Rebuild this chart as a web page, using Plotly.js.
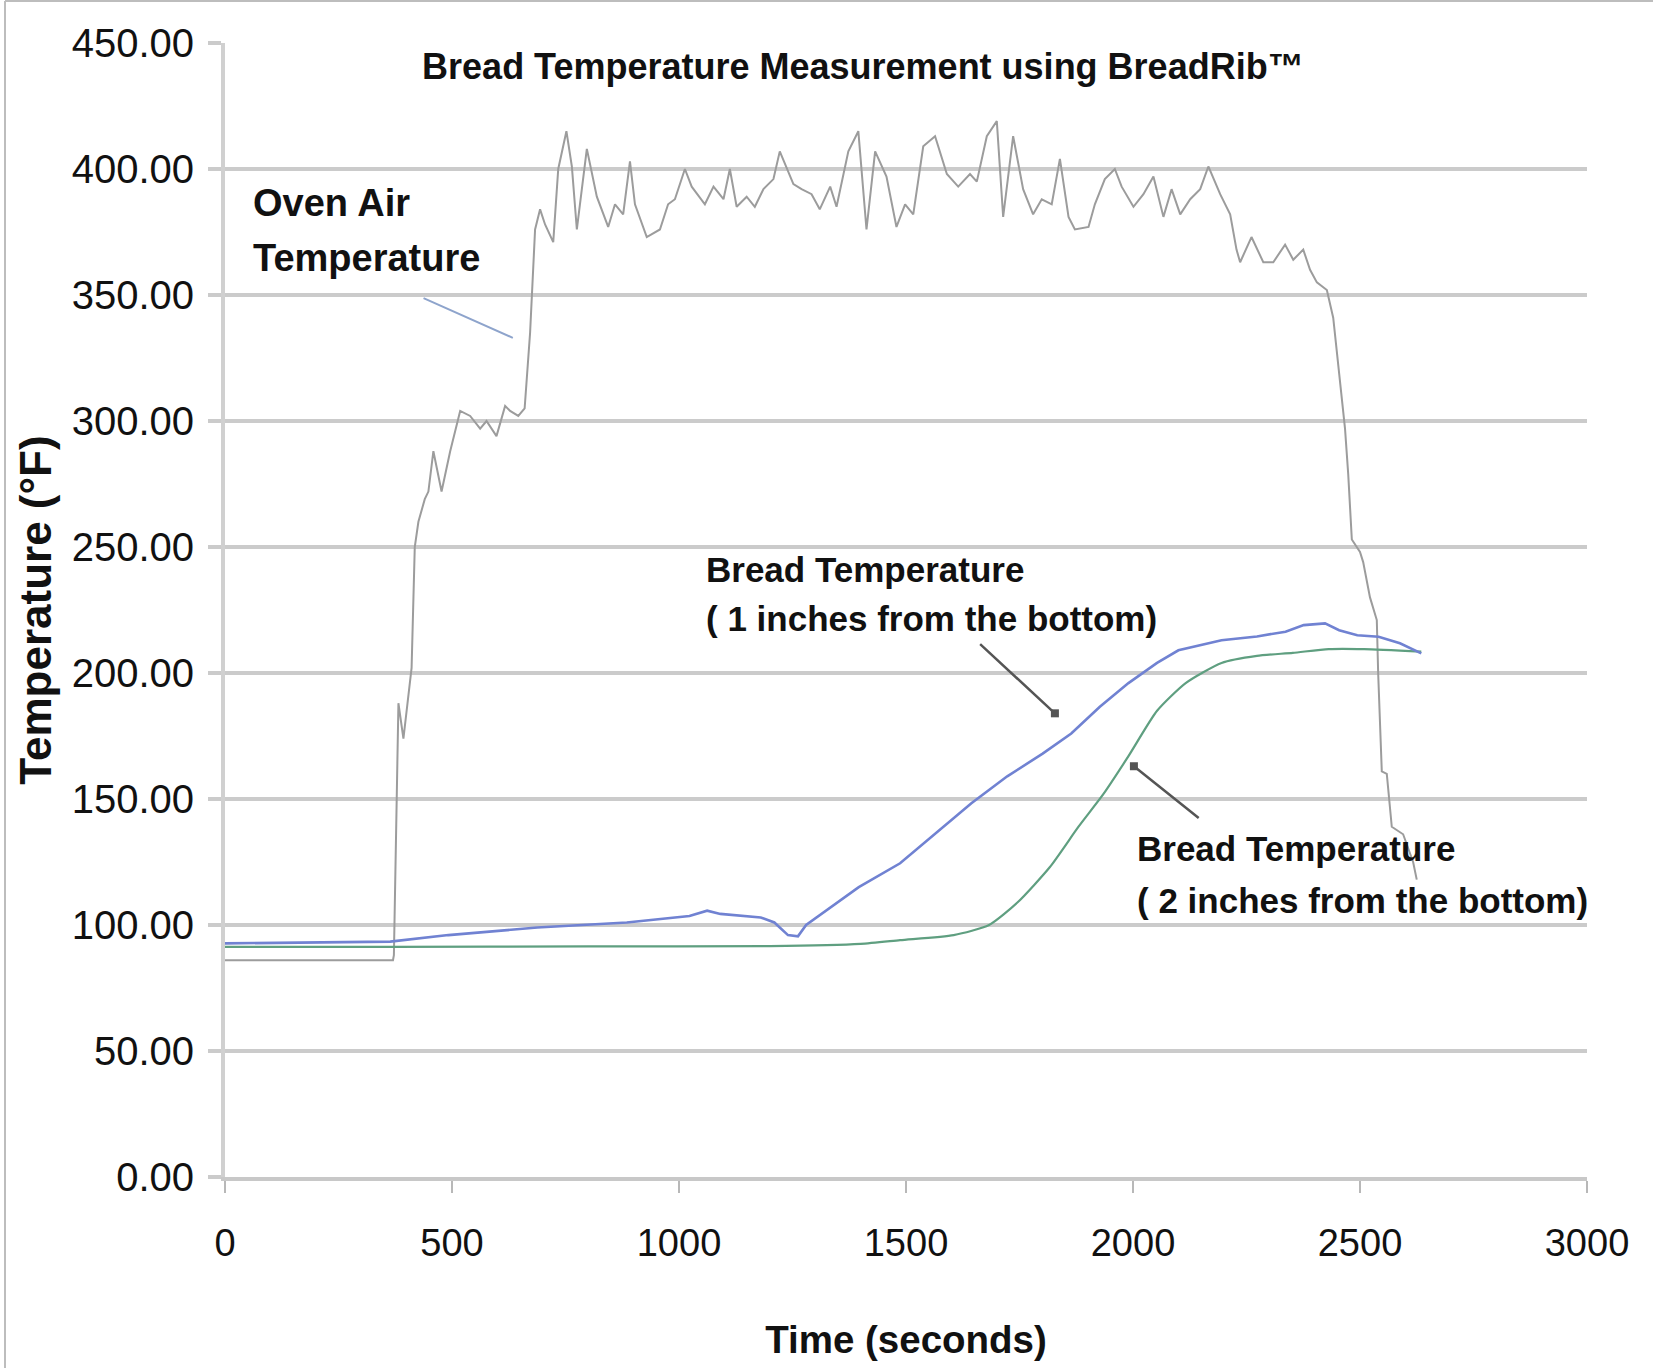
<!DOCTYPE html>
<html>
<head>
<meta charset="utf-8">
<script src="https://cdn.plot.ly/plotly-3.0.1.min.js"></script>
<style>
  html, body { margin: 0; padding: 0; background: #ffffff; }
  #chart { width: 1653px; height: 1368px; }
</style>
</head>
<body>
<div id="chart"></div>
<script>
// ---- Data ----
const chartTitle = 'Bread Temperature Measurement using BreadRib™';
const xTitle = 'Time (seconds)';
const yTitle = 'Temperature (°F)';

// Oven air temperature (time in s, temperature in °F)
const ovenTime = [
  0, 370, 372, 382, 393, 411, 418, 426, 440, 448,
  459, 477, 496, 518, 540, 562, 576, 598, 617, 628,
  646, 660, 672, 683, 694, 705, 723, 734, 752, 764,
  775, 797, 819, 844, 859, 877, 892, 903, 929, 958,
  976, 991, 1013, 1028, 1057, 1076, 1098, 1112, 1127, 1149,
  1167, 1186, 1208, 1222, 1252, 1270, 1292, 1310, 1333, 1347,
  1373, 1395, 1413, 1432, 1457, 1479, 1498, 1516, 1538, 1564,
  1590, 1615, 1641, 1656, 1678, 1700, 1714, 1736, 1758, 1780,
  1799, 1821, 1839, 1858, 1872, 1902, 1916, 1938, 1960, 1975,
  2001, 2023, 2045, 2067, 2085, 2104, 2126, 2148, 2166, 2192,
  2214, 2228, 2236, 2261, 2287, 2309, 2335, 2353, 2375, 2390,
  2405, 2427, 2441, 2456, 2467, 2474, 2482, 2500, 2507, 2522,
  2537, 2540, 2548, 2559, 2570, 2595, 2617, 2625
];
const ovenTemp = [
  86, 86, 88, 188, 174, 202, 250, 260, 269, 272,
  288, 272, 288, 304, 302, 297, 300, 294, 306, 304,
  302, 305, 335, 376, 384, 378, 371, 400, 415, 401,
  376, 408, 389, 377, 386, 382, 403, 386, 373, 376,
  386, 388, 400, 393, 386, 393, 388, 400, 385, 389,
  385, 392, 396, 407, 394, 392, 390, 384, 393, 385,
  407, 415, 376, 407, 397, 377, 386, 382, 409, 413,
  398, 393, 398, 395, 413, 419, 381, 413, 392, 382,
  388, 386, 404, 381, 376, 377, 386, 396, 400, 393,
  385, 390, 397, 381, 392, 382, 388, 392, 401, 390,
  382, 368, 363, 373, 363, 363, 370, 364, 368, 360,
  355, 352, 341, 315, 297, 279, 253, 248, 244, 230,
  221, 200, 161, 160, 139, 136, 125, 118
];

// Bread temperature, 1 inch from the bottom
const bread1Time = [
  0, 364, 492, 688, 885, 1023, 1062, 1091, 1180, 1210,
  1240, 1262, 1280, 1396, 1487, 1565, 1644, 1723, 1801, 1864,
  1927, 1990, 2053, 2100, 2195, 2273, 2336, 2376, 2423, 2454,
  2494, 2541, 2588, 2635
];
const bread1Temp = [
  92.7, 93.4, 96, 99, 101, 103.6, 105.7, 104.4, 103, 101,
  96, 95.5, 100, 115, 124.5, 136.4, 148.3, 159, 168, 176,
  186.6, 196, 204, 209, 213, 214.5, 216.4, 219, 219.7, 217,
  215, 214.4, 211.8, 207.8
];

// Bread temperature, 2 inches from the bottom
const bread2Time = [
  0, 370, 800, 1200, 1400, 1487, 1605, 1683, 1746, 1817,
  1880, 1935, 1990, 2053, 2116, 2195, 2273, 2352, 2431, 2509,
  2635
];
const bread2Temp = [
  91.3, 91.3, 91.5, 91.6, 92.5, 94, 96, 100, 109, 123,
  139, 152, 167, 185, 196, 204, 206.8, 208, 209.5, 209.5,
  208.5
];

// Label lines
const labelOven = ['Oven Air', 'Temperature'];
const labelBread1 = ['Bread Temperature', '( 1 inches from the bottom)'];
const labelBread2 = ['Bread Temperature', '( 2 inches from the bottom)'];

// ---- Styling ----
const sans = "'Liberation Sans', Arial, sans-serif";
const textColor = '#111111';
const gridColor = '#cbcbcb';

const traces = [
  {
    x: ovenTime, y: ovenTemp, type: 'scatter', mode: 'lines',
    line: { color: '#9c9c9c', width: 2 }, name: 'Oven Air Temperature'
  },
  {
    x: bread2Time, y: bread2Temp, type: 'scatter', mode: 'lines',
    line: { color: '#5f9f80', width: 2.2, shape: 'spline', smoothing: 0.6 }, name: 'Bread 2 in'
  },
  {
    x: bread1Time, y: bread1Temp, type: 'scatter', mode: 'lines',
    line: { color: '#7082d2', width: 2.6 }, name: 'Bread 1 in'
  }
];

// helper: one annotation per text line, placed at a data position
function textLine(txt, x, y, size) {
  return {
    x: x, y: y, xref: 'x', yref: 'y', xanchor: 'left', yanchor: 'middle', align: 'left',
    text: '<b>' + txt + '</b>', font: { family: sans, size: size, color: textColor },
    showarrow: false
  };
}
function pointer(x, y, ax, ay, color, head) {
  return {
    x: x, y: y, ax: ax, ay: ay, xref: 'x', yref: 'y', axref: 'x', ayref: 'y',
    text: '', showarrow: true, arrowhead: head, arrowsize: 0.8, arrowwidth: 2.5, arrowcolor: color
  };
}

const layout = {
  width: 1653,
  height: 1368,
  margin: { l: 225, r: 66, t: 43, b: 191 },
  paper_bgcolor: '#ffffff',
  plot_bgcolor: '#ffffff',
  showlegend: false,
  title: {
    text: '<b>' + chartTitle + '</b>',
    font: { family: sans, size: 36, color: textColor },
    xref: 'container', x: 0.522, xanchor: 'center',
    yref: 'container', y: 1 - 66 / 1368, yanchor: 'middle'
  },
  xaxis: {
    range: [0, 3000],
    tick0: 0, dtick: 500,
    showgrid: false, zeroline: false,
    showline: true, linecolor: '#c8c8c8', linewidth: 4,
    ticks: 'outside', ticklen: 12, tickwidth: 2, tickcolor: '#b8b8b8',
    tickfont: { family: sans, size: 38, color: textColor },
    ticklabelstandoff: 17,
    title: { text: '<b>' + xTitle + '</b>', font: { family: sans, size: 38.5, color: textColor }, standoff: 64 }
  },
  yaxis: {
    range: [0, 450],
    tick0: 0, dtick: 50, tickformat: '.2f',
    showgrid: true, gridcolor: gridColor, gridwidth: 4,
    zeroline: false,
    showline: true, linecolor: '#d0d0d0', linewidth: 4,
    ticks: 'outside', ticklen: 13, tickwidth: 4, tickcolor: gridColor,
    tickfont: { family: sans, size: 40, color: textColor },
    ticklabelstandoff: 6,
    title: { text: '<b>' + yTitle + '</b>', font: { family: sans, size: 44, color: textColor }, standoff: 7 }
  },
  annotations: [
    textLine(labelOven[0], 57, 386.5, 38),
    textLine(labelOven[1], 57, 364.5, 38),
    textLine(labelBread1[0], 1055, 241, 35),
    textLine(labelBread1[1], 1055, 221.5, 35),
    textLine(labelBread2[0], 2004, 130.3, 35),
    textLine(labelBread2[1], 2004, 109.6, 35),
    {
      x: 634, y: 333, ax: 434, ay: 349, xref: 'x', yref: 'y', axref: 'x', ayref: 'y',
      text: '', showarrow: true, arrowhead: 0, arrowwidth: 2, arrowcolor: '#8ea4cc'
    },
    pointer(1828, 184, 1660, 212, '#555555', 7),
    pointer(2002, 163, 2148, 142, '#555555', 7)
  ],
  shapes: [
    { type: 'line', xref: 'paper', yref: 'paper',
      x0: (5 - 225) / 1362, x1: (5 - 225) / 1362, y0: (1177 - 1368) / 1134, y1: (1177 - 1) / 1134,
      line: { color: '#bdbdbd', width: 2 } },
    { type: 'line', xref: 'paper', yref: 'paper',
      x0: (5 - 225) / 1362, x1: (1653 - 225) / 1362, y0: (1177 - 1) / 1134, y1: (1177 - 1) / 1134,
      line: { color: '#bdbdbd', width: 2 } }
  ]
};

Plotly.newPlot('chart', traces, layout, { displayModeBar: false, responsive: false });
</script>
</body>
</html>
